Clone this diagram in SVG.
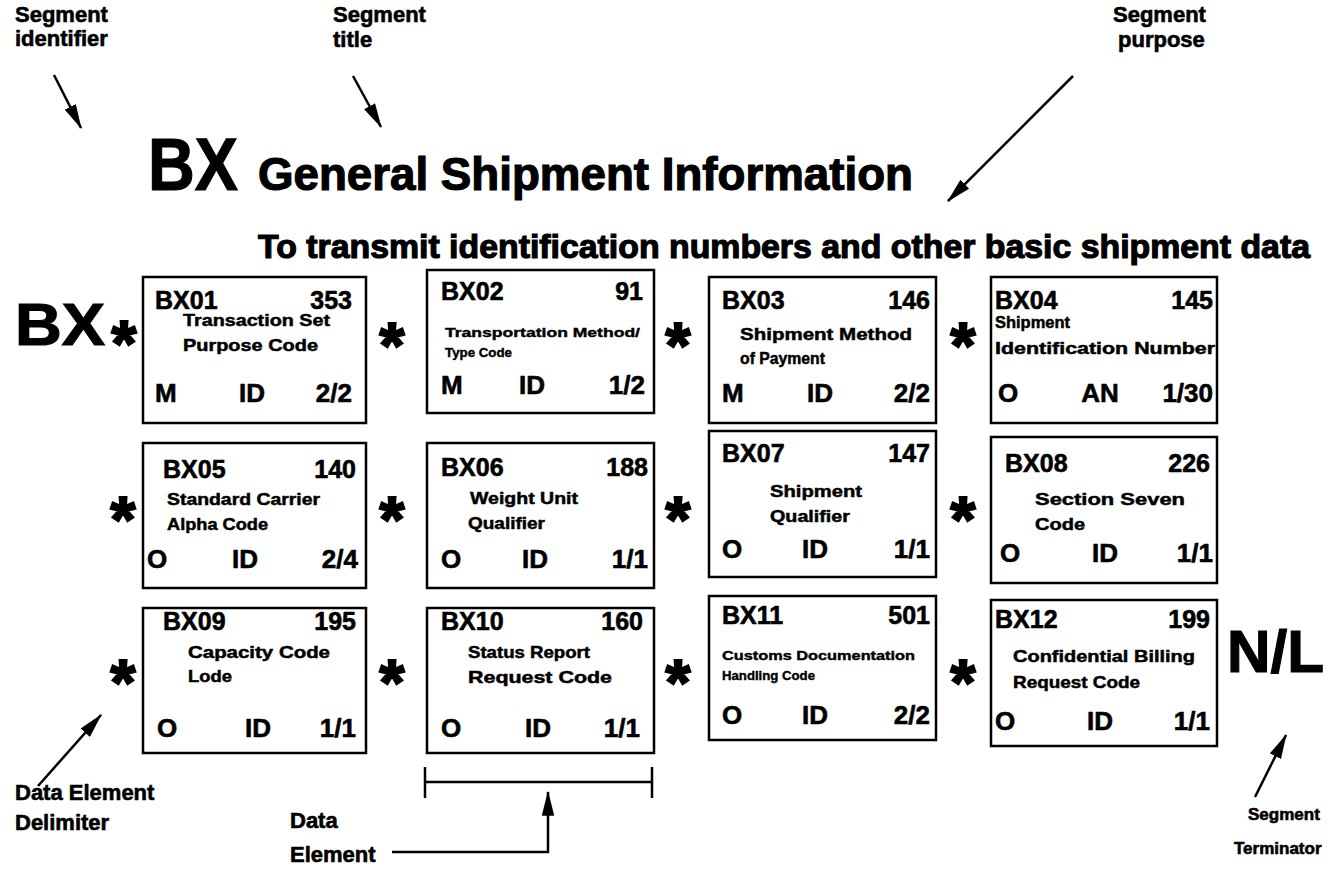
<svg xmlns="http://www.w3.org/2000/svg" width="1327" height="870" viewBox="0 0 1327 870">
<defs>
<style>
text{font-family:"Liberation Sans",Arial,sans-serif;font-weight:bold;fill:#000;stroke:#000;stroke-width:0.6}
.lbl{font-size:22px}
.lbs{font-size:17px}
.hd{font-size:25px}
.bt{font-size:26px}
.ds{font-size:17px;stroke-width:0.5}
.sm{font-size:13px;stroke-width:0.4}
.star{font-size:64px;text-anchor:middle;stroke-width:2.2}
.big{stroke-width:1.2}
.box{fill:#fff;stroke:#000;stroke-width:2.5}
.ln{fill:none;stroke:#000;stroke-width:2.5}
.r{text-anchor:end}
.m{text-anchor:middle}
</style>
<marker id="ah" viewBox="0 0 20 10" refX="19" refY="5" markerWidth="10" markerHeight="5" orient="auto" markerUnits="strokeWidth">
<path d="M0,0 L20,5 L0,10 Z" fill="#000"/>
</marker>
</defs>
<rect width="1327" height="870" fill="#fff"/>

<g id="labels">
<text class="lbl" x="15" y="22">Segment</text>
<text class="lbl" x="15" y="46">identifier</text>
<text class="lbl" x="333" y="22">Segment</text>
<text class="lbl" x="333" y="47">title</text>
<text class="lbl" x="1113" y="22">Segment</text>
<text class="lbl" x="1118" y="47">purpose</text>
<text class="lbl" x="15" y="800">Data Element</text>
<text class="lbl" x="15" y="830">Delimiter</text>
<text class="lbl" x="290" y="828">Data</text>
<text class="lbl" x="290" y="862">Element</text>
<text class="lbs" x="1248" y="820">Segment</text>
<text class="lbs" x="1234" y="854">Terminator</text>
</g>

<g id="title">
<text class="big" x="148" y="190" font-size="74" textLength="90" lengthAdjust="spacingAndGlyphs">BX</text>
<text class="big" x="258" y="190" font-size="46" textLength="655" lengthAdjust="spacingAndGlyphs">General Shipment Information</text>
<text class="big" x="258" y="258" font-size="34" textLength="1052" lengthAdjust="spacingAndGlyphs" stroke-width="0.9">To transmit identification numbers and other basic shipment data</text>
</g>

<g id="segment-id">
<text class="big" x="15" y="345" font-size="60" textLength="90" lengthAdjust="spacingAndGlyphs">BX</text>
</g>
<g id="terminator">
<text class="big" x="1227" y="672" font-size="60" textLength="97" lengthAdjust="spacingAndGlyphs">N/L</text>
</g>

<g id="delimiters">
<text class="star" x="124" y="366" font-size="56">*</text>
<text class="star" x="392" y="368">*</text>
<text class="star" x="678" y="368">*</text>
<text class="star" x="963" y="368">*</text>
<text class="star" x="123" y="542">*</text>
<text class="star" x="392" y="542">*</text>
<text class="star" x="678" y="542">*</text>
<text class="star" x="963" y="542">*</text>
<text class="star" x="123" y="705">*</text>
<text class="star" x="392" y="705">*</text>
<text class="star" x="678" y="705">*</text>
<text class="star" x="963" y="705">*</text>
</g>

<g id="BX01">
<rect class="box" x="143" y="277" width="223" height="146"/>
<text class="hd" x="155" y="309">BX01</text><text class="hd r" x="352" y="309">353</text>
<text class="ds" x="183" y="326" textLength="147" lengthAdjust="spacingAndGlyphs">Transaction Set</text>
<text class="ds" x="183" y="351" textLength="135" lengthAdjust="spacingAndGlyphs">Purpose Code</text>
<text class="bt" x="155" y="402">M</text><text class="bt m" x="252" y="402">ID</text><text class="bt r" x="352" y="402">2/2</text>
</g>
<g id="BX02">
<rect class="box" x="427" y="270" width="227" height="143"/>
<text class="hd" x="441" y="300">BX02</text><text class="hd r" x="643" y="300">91</text>
<text class="sm" x="445" y="337" textLength="195" lengthAdjust="spacingAndGlyphs">Transportation Method/</text>
<text class="sm" x="445" y="357" textLength="67" lengthAdjust="spacingAndGlyphs">Type Code</text>
<text class="bt" x="441" y="394">M</text><text class="bt m" x="532" y="394">ID</text><text class="bt r" x="645" y="394">1/2</text>
</g>
<g id="BX03">
<rect class="box" x="709" y="277" width="227" height="146"/>
<text class="hd" x="722" y="309">BX03</text><text class="hd r" x="930" y="309">146</text>
<text class="ds" x="740" y="340" textLength="172" lengthAdjust="spacingAndGlyphs">Shipment Method</text>
<text class="ds" x="740" y="364" textLength="85" lengthAdjust="spacingAndGlyphs">of Payment</text>
<text class="bt" x="722" y="402">M</text><text class="bt m" x="820" y="402">ID</text><text class="bt r" x="930" y="402">2/2</text>
</g>
<g id="BX04">
<rect class="box" x="991" y="277" width="226" height="146"/>
<text class="hd" x="995" y="309">BX04</text><text class="hd r" x="1213" y="309">145</text>
<text class="ds" x="995" y="328" textLength="75" lengthAdjust="spacingAndGlyphs">Shipment</text>
<text class="ds" x="995" y="354" textLength="220" lengthAdjust="spacingAndGlyphs">Identification Number</text>
<text class="bt" x="998" y="402">O</text><text class="bt m" x="1100" y="402">AN</text><text class="bt r" x="1213" y="402">1/30</text>
</g>

<g id="BX05">
<rect class="box" x="143" y="443" width="223" height="145"/>
<text class="hd" x="163" y="478">BX05</text><text class="hd r" x="356" y="478">140</text>
<text class="ds" x="167" y="505" textLength="153" lengthAdjust="spacingAndGlyphs">Standard Carrier</text>
<text class="ds" x="167" y="530" textLength="101" lengthAdjust="spacingAndGlyphs">Alpha Code</text>
<text class="bt" x="147" y="568">O</text><text class="bt m" x="245" y="568">ID</text><text class="bt r" x="358" y="568">2/4</text>
</g>
<g id="BX06">
<rect class="box" x="427" y="443" width="227" height="145"/>
<text class="hd" x="441" y="476">BX06</text><text class="hd r" x="648" y="476">188</text>
<text class="ds" x="470" y="504" textLength="108" lengthAdjust="spacingAndGlyphs">Weight Unit</text>
<text class="ds" x="468" y="529" textLength="77" lengthAdjust="spacingAndGlyphs">Qualifier</text>
<text class="bt" x="441" y="568">O</text><text class="bt m" x="535" y="568">ID</text><text class="bt r" x="648" y="568">1/1</text>
</g>
<g id="BX07">
<rect class="box" x="709" y="431" width="227" height="146"/>
<text class="hd" x="722" y="462">BX07</text><text class="hd r" x="930" y="462">147</text>
<text class="ds" x="770" y="497" textLength="92" lengthAdjust="spacingAndGlyphs">Shipment</text>
<text class="ds" x="770" y="522" textLength="80" lengthAdjust="spacingAndGlyphs">Qualifier</text>
<text class="bt" x="722" y="558">O</text><text class="bt m" x="815" y="558">ID</text><text class="bt r" x="930" y="558">1/1</text>
</g>
<g id="BX08">
<rect class="box" x="991" y="437" width="226" height="146"/>
<text class="hd" x="1005" y="472">BX08</text><text class="hd r" x="1210" y="472">226</text>
<text class="ds" x="1035" y="505" textLength="150" lengthAdjust="spacingAndGlyphs">Section Seven</text>
<text class="ds" x="1035" y="530" textLength="50" lengthAdjust="spacingAndGlyphs">Code</text>
<text class="bt" x="1000" y="562">O</text><text class="bt m" x="1105" y="562">ID</text><text class="bt r" x="1213" y="562">1/1</text>
</g>

<g id="BX09">
<rect class="box" x="143" y="608" width="223" height="145"/>
<text class="hd" x="163" y="630">BX09</text><text class="hd r" x="356" y="630">195</text>
<text class="ds" x="188" y="658" textLength="142" lengthAdjust="spacingAndGlyphs">Capacity Code</text>
<text class="ds" x="188" y="682" textLength="44" lengthAdjust="spacingAndGlyphs">Lode</text>
<text class="bt" x="157" y="737">O</text><text class="bt m" x="258" y="737">ID</text><text class="bt r" x="356" y="737">1/1</text>
</g>
<g id="BX10">
<rect class="box" x="427" y="608" width="227" height="145"/>
<text class="hd" x="441" y="630">BX10</text><text class="hd r" x="643" y="630">160</text>
<text class="ds" x="468" y="658" textLength="122" lengthAdjust="spacingAndGlyphs">Status Report</text>
<text class="ds" x="468" y="683" textLength="144" lengthAdjust="spacingAndGlyphs">Request  Code</text>
<text class="bt" x="441" y="737">O</text><text class="bt m" x="538" y="737">ID</text><text class="bt r" x="640" y="737">1/1</text>
</g>
<g id="BX11">
<rect class="box" x="709" y="596" width="227" height="144"/>
<text class="hd" x="722" y="624">BX11</text><text class="hd r" x="930" y="624">501</text>
<text class="sm" x="722" y="660" textLength="193" lengthAdjust="spacingAndGlyphs">Customs Documentation</text>
<text class="sm" x="722" y="680" textLength="93" lengthAdjust="spacingAndGlyphs">Handling Code</text>
<text class="bt" x="722" y="724">O</text><text class="bt m" x="815" y="724">ID</text><text class="bt r" x="930" y="724">2/2</text>
</g>
<g id="BX12">
<rect class="box" x="991" y="600" width="226" height="146"/>
<text class="hd" x="995" y="628">BX12</text><text class="hd r" x="1210" y="628">199</text>
<text class="ds" x="1013" y="662" textLength="182" lengthAdjust="spacingAndGlyphs">Confidential Billing</text>
<text class="ds" x="1013" y="688" textLength="127" lengthAdjust="spacingAndGlyphs">Request Code</text>
<text class="bt" x="995" y="730">O</text><text class="bt m" x="1100" y="730">ID</text><text class="bt r" x="1210" y="730">1/1</text>
</g>

<g id="connectors">
<line class="ln" x1="54" y1="75" x2="81" y2="128" marker-end="url(#ah)"/>
<line class="ln" x1="353" y1="76" x2="381" y2="127" marker-end="url(#ah)"/>
<line class="ln" x1="1073" y1="76" x2="948" y2="201" marker-end="url(#ah)"/>
<line class="ln" x1="38" y1="786" x2="101" y2="715" marker-end="url(#ah)"/>
<line class="ln" x1="1255" y1="797" x2="1286" y2="735" marker-end="url(#ah)"/>
<polyline class="ln" points="392,852 548,852 548,792" marker-end="url(#ah)"/>
<line class="ln" x1="425" y1="782" x2="652" y2="782"/>
<line class="ln" x1="425" y1="767" x2="425" y2="798"/>
<line class="ln" x1="652" y1="767" x2="652" y2="798"/>
</g>
</svg>
